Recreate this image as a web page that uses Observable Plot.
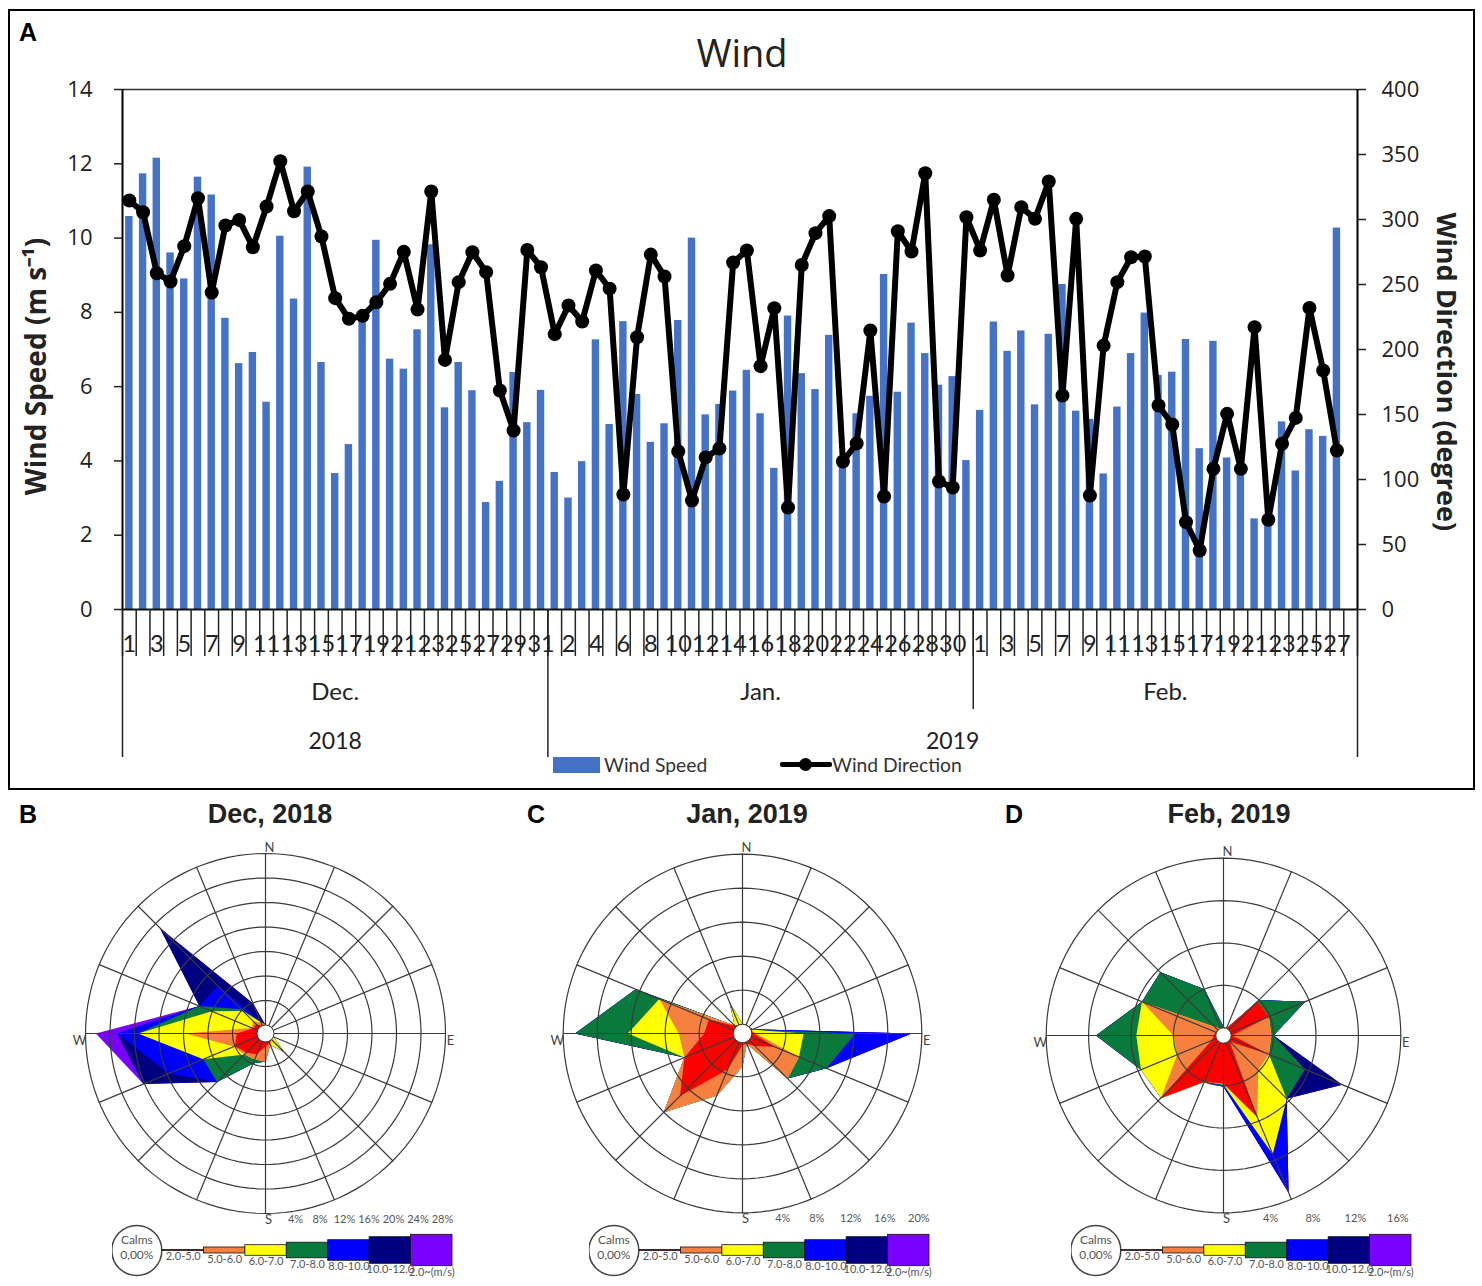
<!DOCTYPE html>
<html>
<head>
<meta charset="utf-8">
<script src="https://cdn.jsdelivr.net/npm/d3@7"></script>
<script src="https://cdn.jsdelivr.net/npm/@observablehq/plot@0.6"></script>
<style>
  html, body { margin: 0; padding: 0; background: #fff; }
  #page { position: relative; width: 1482px; height: 1286px; overflow: hidden; font-family: "Open Sans", sans-serif; }
  .abs { position: absolute; }
  .abs svg { display: block; max-width: none; background: transparent; }
  .letter { font: bold 25px "Liberation Sans", sans-serif; color: #000; }
  .rose-title { font: bold 27px "Liberation Sans", sans-serif; color: #222; width: 300px; text-align: center; }
  .legend-text { font: 19.3px Lato, sans-serif; color: #333; white-space: nowrap; }
</style>
</head>
<body>
<div id="page">
  <div class="abs" style="left:8px;top:9px;width:1463px;height:777px;border:2px solid #000"></div>
  <div id="chart" class="abs" style="left:0;top:0"></div>
  <div class="abs letter" style="left:19px;top:18px">A</div>
  <div class="abs" style="left:0;top:26px;width:1484px;text-align:center;font-size:38px;color:#222">Wind</div>

  <div class="abs" style="left:553px;top:757px;width:47px;height:16px;background:#4472c4"></div>
  <div class="abs legend-text" style="left:604px;top:753px">Wind Speed</div>
  <div class="abs" style="left:780px;top:762px;width:52px;height:5px;background:#000;border-radius:2px"></div>
  <div class="abs" style="left:799px;top:758px;width:13px;height:13px;background:#000;border-radius:50%"></div>
  <div class="abs legend-text" style="left:832px;top:753px">Wind Direction</div>

  <div class="abs letter" style="left:19px;top:800px">B</div>
  <div class="abs letter" style="left:527px;top:800px">C</div>
  <div class="abs letter" style="left:1005px;top:800px">D</div>
  <div class="abs rose-title" style="left:120px;top:799px">Dec, 2018</div>
  <div class="abs rose-title" style="left:597px;top:799px">Jan, 2019</div>
  <div class="abs rose-title" style="left:1079px;top:799px">Feb, 2019</div>
</div>
<script>
// daily values
const decSpeed = [10.58, 11.73, 12.15, 9.6, 8.9, 11.64, 11.16, 7.84, 6.62, 6.92, 5.58, 10.05, 8.36, 11.91, 6.65, 3.66, 4.44, 7.9, 9.94, 6.74, 6.47, 7.53, 9.82, 5.43, 6.65, 5.89, 2.88, 3.45, 6.38, 5.03, 5.9];
const janSpeed = [3.69, 3.0, 3.98, 7.26, 4.98, 7.75, 5.79, 4.5, 5.0, 7.78, 10.0, 5.24, 5.52, 5.88, 6.44, 5.27, 3.8, 7.9, 6.35, 5.92, 7.38, 4.0, 5.27, 5.74, 9.02, 5.85, 7.71, 6.89, 6.04, 6.27, 4.01];
const febSpeed = [5.36, 7.74, 6.95, 7.5, 5.51, 7.41, 8.75, 5.34, 5.12, 3.65, 5.45, 6.89, 7.98, 6.3, 6.39, 7.27, 4.33, 7.22, 4.08, 3.9, 2.44, 2.5, 5.05, 3.73, 4.84, 4.66, 10.27];

const decDir = [314.6, 305.6, 258.7, 252.3, 279.5, 316.4, 243.8, 295.4, 299.7, 278.7, 310, 344.9, 306.4, 321.5, 286.9, 239.5, 223.6, 225.9, 236.4, 250.5, 275.1, 230.8, 321.5, 192, 251.8, 274.9, 259.5, 168.5, 137.7, 276.5, 263.3];
const janDir = [211.8, 233.8, 221.5, 260.8, 246.8, 88.5, 209.4, 273, 256.2, 121.5, 83.8, 117, 123.8, 266.9, 276.2, 187.2, 231.8, 78.5, 265, 289.5, 302.6, 113.8, 127.7, 214.6, 86.9, 291, 275.4, 335.6, 98.5, 93.8, 301.8];
const febDir = [276.2, 315.2, 256.9, 309.5, 300.5, 329.2, 164.6, 300.5, 87.7, 203, 251.8, 271, 271.5, 156.9, 142.3, 67.2, 45.4, 108.2, 150.5, 108.2, 217.2, 69, 127.5, 147.4, 232, 183.8, 122.3];

const speedTicks = [0, 2, 4, 6, 8, 10, 12, 14];
const dirTicks = [0, 50, 100, 150, 200, 250, 300, 350, 400];
const monthNames = ["Dec.", "Jan.", "Feb."];
const yearNames = ["2018", "2019"];

// wind roses: cumulative percent per direction, one row per speed band
const directions = ["N", "NNE", "NE", "ENE", "E", "ESE", "SE", "SSE", "S", "SSW", "SW", "WSW", "W", "WNW", "NW", "NNW"];
const bandLabels = ["2.0-5.0", "5.0-6.0", "6.0-7.0", "7.0-8.0", "8.0-10.0", "10.0-12.0", "2.0~(m/s)"];
const bandColors = ["#ff0000", "#f58040", "#ffff00", "#0a7a3c", "#0000ff", "#000080", "#7a00ff"];
const bandHalfHeights = [0.4, 3, 5.3, 7.8, 10.3, 13.3, 15.7];

const decRose = [
  [0, 0, 0, 0, 0, 0, 0, 0.3, 0.7, 2.3, 3, 4, 3.3, 0.8, 0.8, 0],
  [0, 0, 0, 0, 0, 0, 0, 0.6, 3.2, 3.2, 3.45, 4.2, 11.7, 1, 1.5, 0.5],
  [0, 0, 0, 0, 0, 0, 2.9, 0.6, 3.2, 3.2, 3.45, 9.6, 19.4, 8.1, 3.8, 0.6],
  [0, 0, 0, 0, 0, 0, 2.9, 0.6, 3.2, 3.9, 9.8, 9.6, 19.4, 10.3, 4.2, 0.7],
  [0, 0, 0, 0, 0, 0, 2.9, 0.6, 3.2, 3.9, 9.8, 15.7, 22.8, 10.3, 9.6, 1],
  [0, 0, 0, 0, 0, 0, 2.9, 0.6, 3.2, 3.9, 9.8, 20.2, 22.8, 10.3, 23, 3.9],
  [0, 0, 0, 0, 0, 0, 2.9, 0.6, 3.2, 3.9, 9.8, 20.2, 26.3, 10.3, 23, 3.9]
];
const janRose = [
  [0, 0, 0, 0, 0.2, 3, 1, 0.2, 0.3, 3.5, 9.3, 6.3, 3.4, 3.2, 0.2, 0],
  [0, 0, 0, 0, 0.5, 6.1, 6.4, 0.2, 2.8, 6.8, 12, 6.3, 6.4, 9.5, 0.2, 0],
  [0, 0, 0, 0.1, 6.1, 6.1, 6.4, 0.2, 2.8, 6.8, 12, 6.3, 12.4, 9.5, 0.2, 2.8],
  [0, 0, 0, 0.1, 12.2, 9.6, 6.4, 0.2, 2.8, 6.8, 12, 6.3, 18.6, 12.5, 0.2, 2.8],
  [0, 0, 0, 0.2, 18.8, 9.6, 6.4, 0.2, 2.8, 6.8, 12, 6.3, 18.6, 12.5, 0.2, 2.8],
  [0, 0, 0, 0.2, 18.8, 9.6, 6.4, 0.2, 2.8, 6.8, 12, 6.3, 18.6, 12.5, 0.2, 2.8],
  [0, 0, 0, 0.2, 18.8, 9.6, 6.4, 0.2, 2.8, 6.8, 12, 6.3, 18.6, 12.5, 0.2, 2.8]
];
const febRose = [
  [0, 0, 3.8, 3.9, 0.1, 3.9, 0.1, 7.6, 3.8, 4, 7.6, 0.5, 0.2, 0.1, 0, 0],
  [0, 0, 3.8, 3.9, 3.8, 3.9, 3.9, 7.6, 3.9, 4, 7.6, 4, 4, 7.6, 0.4, 0],
  [0, 0, 3.8, 3.9, 3.8, 3.9, 7.7, 11.4, 3.9, 4, 7.6, 7.7, 7.5, 7.6, 0.4, 0],
  [0.1, 0, 4, 7.6, 4, 7.6, 7.7, 11.4, 4, 4, 7.6, 7.7, 11.3, 7.6, 7.7, 4],
  [0.1, 0, 4, 7.6, 4, 7.6, 7.7, 15.3, 4.1, 4, 7.6, 7.7, 11.3, 7.6, 7.7, 4],
  [0.1, 0, 4, 7.6, 4, 11.4, 7.7, 15.3, 4.1, 4, 7.6, 7.7, 11.3, 7.6, 7.7, 4],
  [0.1, 0, 4, 7.6, 4, 11.4, 7.7, 15.3, 4.1, 4, 7.6, 7.7, 11.3, 7.6, 7.7, 4]
];

const sans = "Open Sans";
const narrow = "Lato";

// main chart: one x unit is one day, Feb. 28 left empty
const speeds = [...decSpeed, ...janSpeed, ...febSpeed];
const dirs = [...decDir, ...janDir, ...febDir];
const days = [...d3.range(1, 32), ...d3.range(1, 32), ...d3.range(1, 28)];
const daily = speeds.map((s, i) => ({i, day: days[i], speed: s, dir: dirs[i]}));
const toSpeed = (d) => d * 14 / 400;
const noLabel = () => "";

const chart = Plot.plot({
  width: 1482,
  height: 790,
  marginLeft: 122,
  marginRight: 125,
  marginTop: 89,
  marginBottom: 181,
  x: {domain: [0, 90], axis: null},
  y: {domain: [0, 14], axis: null},
  style: {background: "transparent", color: "#222"},
  marks: [
    Plot.rectY(daily, {x1: (d) => d.i + 0.23, x2: (d) => d.i + 0.77, y: "speed", fill: "#4472c4"}),
    Plot.ruleY([14], {stroke: "#333", strokeWidth: 1.5}),
    Plot.ruleY([0], {stroke: "#111", strokeWidth: 2}),
    Plot.ruleX([0, 90], {stroke: "#000", strokeWidth: 2}),
    Plot.axisY(speedTicks, {anchor: "left", tickSize: 8, tickPadding: 22, fontSize: 22, fontFamily: sans, strokeWidth: 1.5, label: null}),
    Plot.axisY(dirTicks, {anchor: "right", y: toSpeed, tickFormat: (d) => d, tickSize: 8, tickPadding: 16, fontSize: 22, fontFamily: sans, strokeWidth: 1.5, label: null}),
    Plot.axisX(d3.range(0, 91), {tickSize: 47, tickFormat: noLabel, strokeWidth: 1.5, label: null}),
    Plot.axisX([0, 31, 90], {tickSize: 148, tickFormat: noLabel, strokeWidth: 1.5, label: null}),
    Plot.axisX([62], {tickSize: 100, tickFormat: noLabel, strokeWidth: 1.5, label: null}),
    Plot.text(daily.filter((d) => d.i % 2 === 0), {x: (d) => d.i + 0.5, y: 0, dy: 35, text: "day", fontFamily: narrow, fontSize: 23.5, fill: "#222"}),
    Plot.text(monthNames, {x: [15.5, 46.5, 76], y: 0, dy: 83, text: (d) => d, fontFamily: narrow, fontSize: 24, fill: "#222"}),
    Plot.text(yearNames, {x: [15.5, 60.5], y: 0, dy: 132, text: (d) => d, fontFamily: narrow, fontSize: 23, fill: "#222"}),
    Plot.text(["Wind Speed (m s⁻¹)"], {x: 0, y: 6.54, dx: -85, rotate: -90, fontFamily: sans, fontWeight: 700, fontSize: 28, fill: "#222"}),
    Plot.text(["Wind Direction (degree)"], {x: 90, y: 6.4, dx: 88, rotate: 90, fontFamily: sans, fontWeight: 700, fontSize: 27, fill: "#222"}),
    Plot.line(daily, {x: (d) => d.i + 0.5, y: (d) => toSpeed(d.dir), stroke: "#000", strokeWidth: 6, strokeLinejoin: "round"}),
    Plot.dot(daily, {x: (d) => d.i + 0.5, y: (d) => toSpeed(d.dir), r: 7, fill: "#000"})
  ]
});
document.getElementById("chart").append(chart);

// one wind rose, ring radius = calm circle + percent
function rosePlot(rows, maxPct, step, calmPx, pxPerPct) {
  const size = 400;
  const half = size / 2 / pxPerPct;
  const calm = calmPx / pxPerPct;
  const outer = maxPct + calm;
  const polar = (v, a) => ({x: (v + calm) * Math.sin(a), y: (v + calm) * Math.cos(a)});
  const angle = (k) => k * Math.PI / 8;
  const rings = d3.range(step, maxPct + step, step);
  const ringPts = rings.flatMap((v) => d3.range(0, 121).map((k) => ({ring: v, ...polar(v, k * Math.PI / 60)})));
  const spokes = directions.flatMap((name, k) => [{name, ...polar(0, angle(k))}, {name, ...polar(maxPct, angle(k))}]);
  const layers = d3.range(rows.length - 1, -1, -1).map((b) =>
    Plot.line(rows[b].map((v, k) => polar(v, angle(k))), {x: "x", y: "y", curve: "linear-closed", fill: bandColors[b], stroke: "none"})
  );
  const compass = {fontFamily: narrow, fontSize: 13, fill: "#444"};
  return Plot.plot({
    width: size,
    height: size,
    margin: 0,
    x: {domain: [-half, half], range: [0, size], axis: null},
    y: {domain: [-half, half], range: [size, 0], axis: null},
    style: {background: "transparent"},
    marks: [
      ...layers,
      Plot.line(ringPts, {x: "x", y: "y", z: "ring", stroke: "#3a3a3a", strokeWidth: 1.2}),
      Plot.line(spokes, {x: "x", y: "y", z: "name", stroke: "#3a3a3a", strokeWidth: 1.2}),
      Plot.dot([0], {x: 0, y: 0, r: calmPx, fill: "#fff", stroke: "#333", strokeWidth: 1}),
      Plot.text(["N"], {x: 0, y: outer, dx: 4, dy: -6, ...compass}),
      Plot.text(["S"], {x: 0, y: -outer, dx: 3, dy: 6, ...compass}),
      Plot.text(["E"], {x: outer, y: 0, dx: 5, dy: 7, ...compass}),
      Plot.text(["W"], {x: -outer, y: 0, dx: -6, dy: 7, ...compass}),
      Plot.text(rings, {x: (v) => v + calm, y: -outer, dx: -3, dy: 6, text: (v) => v + "%", fontFamily: narrow, fontSize: 11, fill: "#555"})
    ]
  });
}

// speed band key below a rose
function roseKey() {
  const bands = bandLabels.map((label, b) => ({b, label, h: bandHalfHeights[b], color: bandColors[b]}));
  return Plot.plot({
    width: 360,
    height: 70,
    margin: 0,
    x: {domain: [0, 7], range: [50, 340], axis: null},
    y: {domain: [-35, 35], range: [70, 0], axis: null},
    style: {background: "transparent"},
    marks: [
      Plot.dot([0], {x: -0.62, y: 0, r: 25, fill: "#fff", stroke: "#444"}),
      Plot.text(["Calms"], {x: -0.62, y: 0, dy: -10, fontFamily: narrow, fontSize: 12, fill: "#555"}),
      Plot.text(["0,00%"], {x: -0.62, y: 0, dy: 5, fontFamily: narrow, fontSize: 12, fill: "#555"}),
      Plot.rect(bands, {x1: "b", x2: (d) => d.b + 1, y1: (d) => -d.h, y2: "h", fill: "color", stroke: "#111", strokeWidth: 0.8}),
      Plot.text(bands, {x: (d) => d.b + 0.5, y: (d) => -d.h, dy: 6, text: "label", fontFamily: narrow, fontSize: 11, fill: "#555"})
    ]
  });
}

function place(node, left, top) {
  const wrap = document.createElement("div");
  wrap.className = "abs";
  wrap.style.left = left + "px";
  wrap.style.top = top + "px";
  wrap.append(node);
  document.getElementById("page").append(wrap);
}

place(rosePlot(decRose, 28, 4, 8.5, 6.125), 65, 833);
place(rosePlot(janRose, 20, 4, 9.3, 8.5), 542, 833);
place(rosePlot(febRose, 16, 4, 7.7, 10.6), 1023, 835);
place(roseKey(), 112, 1215);
place(roseKey(), 589, 1215);
place(roseKey(), 1071, 1215);
</script>
</body>
</html>
